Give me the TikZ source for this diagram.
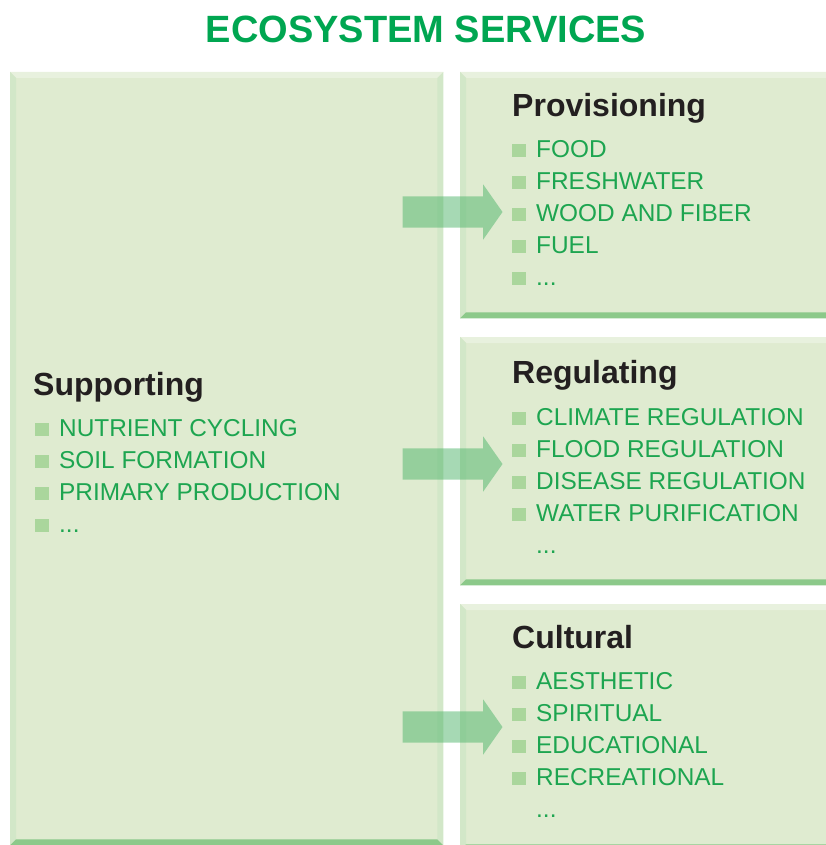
\documentclass[tikz,border=0pt]{standalone}
\usepackage{fontspec}
\setmainfont{Liberation Sans}
\usetikzlibrary{shapes.arrows, positioning, calc}

\definecolor{boxfill}{HTML}{DFEBD0}
\definecolor{bevtop}{HTML}{E8F1DE}
\definecolor{bevside}{HTML}{D2E7C8}
\definecolor{bevbottom}{HTML}{8CC98A}
\definecolor{titlegreen}{HTML}{00A651}
\definecolor{itemgreen}{HTML}{1DA550}
\definecolor{bulletgreen}{HTML}{AAD69C}
\definecolor{headgray}{HTML}{231F20}
\definecolor{arrowgreen}{HTML}{4DB46A}

\newcommand{\blt}{\textcolor{bulletgreen}{\rule{14pt}{13pt}}\hspace{10pt}}
\newcommand{\nob}{\hspace{24pt}}

% bevelled border round a box node
\newcommand{\bevel}[1]{%
  \fill[bevtop] (#1.north west) -- (#1.north east) -- ($(#1.north east)+(-6,6)$) -- ($(#1.north west)+(6,6)$) -- cycle;
  \fill[bevside] (#1.north west) -- ($(#1.north west)+(6,6)$) -- ($(#1.south west)+(6,-6)$) -- (#1.south west) -- cycle;
  \fill[bevside] (#1.north east) -- ($(#1.north east)+(-6,6)$) -- ($(#1.south east)+(-6,-6)$) -- (#1.south east) -- cycle;
  \fill[bevbottom] (#1.south west) -- ($(#1.south west)+(6,-6)$) -- ($(#1.south east)+(-6,-6)$) -- (#1.south east) -- cycle;
}

\tikzset{
  svcbox/.style={rectangle, fill=boxfill, anchor=north west, inner sep=0pt},
  header/.style={anchor=base west, inner sep=0pt, text=headgray, font=\fontsize{32}{34}\selectfont\bfseries},
  % lists are placed by the baseline of their last line
  itemlist/.style={anchor=base west, inner sep=0pt, align=left, text=itemgreen, font=\fontsize{24.4}{32}\selectfont},
  blockarrow/.style={single arrow, fill=arrowgreen, fill opacity=0.5, minimum height=100pt, minimum width=0pt,
    inner xsep=0pt, inner ysep=15.5pt, single arrow head extend=12pt, single arrow tip angle=110, single arrow head indent=0pt}
}

\begin{document}
\begin{tikzpicture}[x=1pt, y=-1pt]
\useasboundingbox (0,0) rectangle (825,845);

% title
\node[anchor=base, text=titlegreen, font=\fontsize{38}{40}\selectfont\bfseries, inner sep=0pt] (title) at (426,43) {ECOSYSTEM SERVICES};

% boxes
\node[svcbox, minimum width=433pt, minimum height=773pt] (supp) at (10,72) {};
\node[svcbox, minimum width=375pt, minimum height=246pt] (prov) at (460,72) {};
\node[svcbox, minimum width=375pt, minimum height=248pt] (reg) at (460,337) {};
\node[svcbox, minimum width=375pt, minimum height=246pt] (cult) at (460,604) {};
\bevel{supp}
\bevel{prov}
\bevel{reg}
\bevel{cult}

% arrows
\node[blockarrow] (toprov) at (447,212) {};
\node[blockarrow] (toreg) at (447,464) {};
\node[blockarrow] (tocult) at (447,727) {};

% Supporting
\node[header] (supphead) at (33,395) {Supporting};
\node[itemlist] (suppitems) at (35,532)
  {\blt NUTRIENT CYCLING\\ \blt SOIL FORMATION\\ \blt PRIMARY PRODUCTION\\ \blt ...};

% Provisioning
\node[header] (provhead) at (512,117) {Provisioning};
\node[itemlist] (provitems) at (512,285)
  {\blt FOOD\\ \blt FRESHWATER\\ \blt WOOD AND FIBER\\ \blt FUEL\\ \blt ...};

% Regulating
\node[header] (reghead) at (512,383) {Regulating};
\node[itemlist] (regitems) at (512,553)
  {\blt CLIMATE REGULATION\\ \blt FLOOD REGULATION\\ \blt DISEASE REGULATION\\ \blt WATER PURIFICATION\\ \nob ...};

% Cultural
\node[header] (culthead) at (512,648) {Cultural};
\node[itemlist] (cultitems) at (512,817)
  {\blt AESTHETIC\\ \blt SPIRITUAL\\ \blt EDUCATIONAL\\ \blt RECREATIONAL\\ \nob ...};
\end{tikzpicture}
\end{document}
